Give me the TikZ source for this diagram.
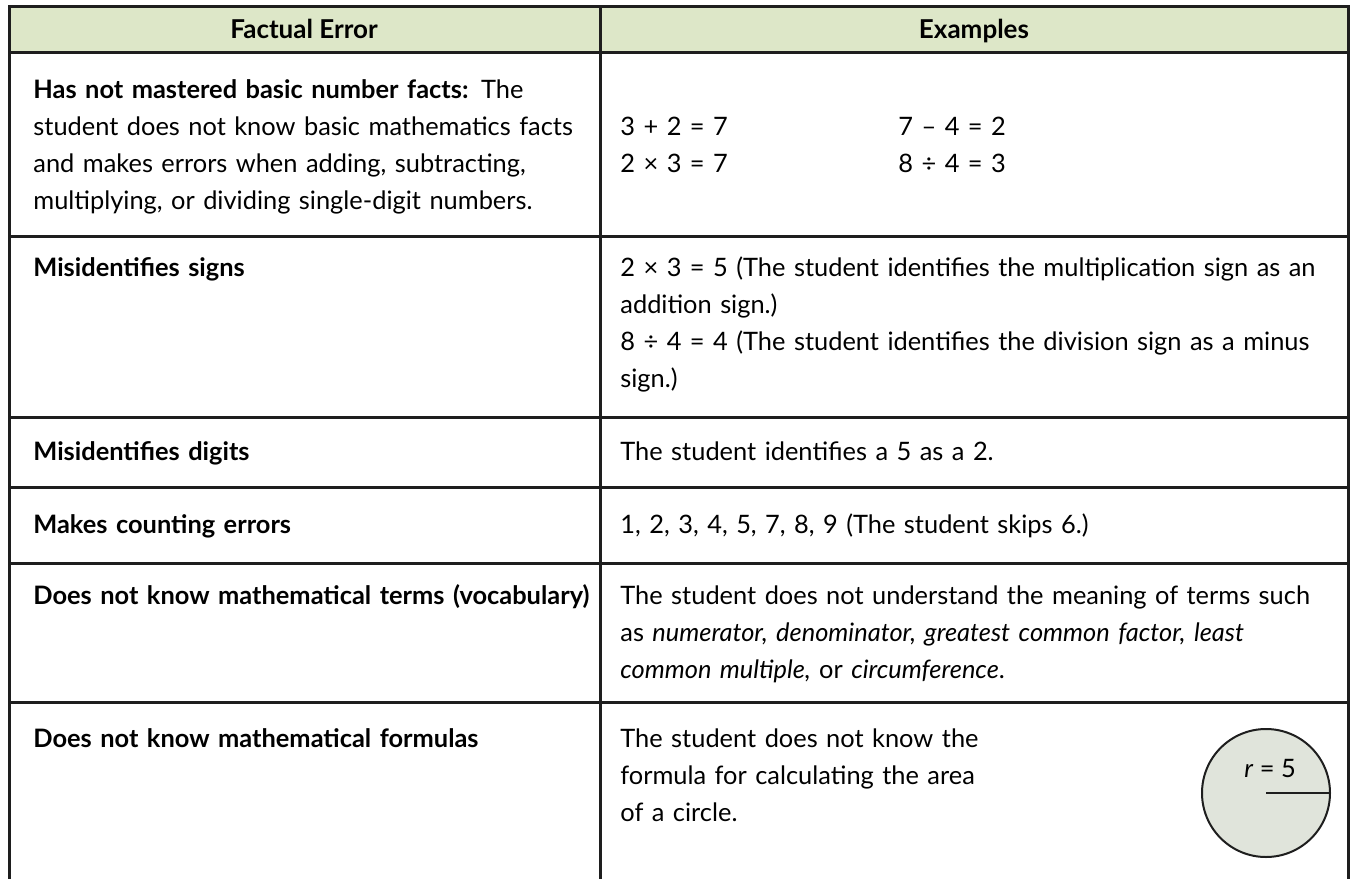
\documentclass[tikz,border=0pt]{standalone}
\usepackage{fontspec}
\setmainfont{Lato}
\usepackage{xcolor}
\usetikzlibrary{positioning,calc}

\definecolor{hdrgreen}{RGB}{221,231,200}
\definecolor{discgrey}{RGB}{224,228,219}
\definecolor{gridcol}{RGB}{30,30,30}

\begin{document}
\begin{tikzpicture}[x=0.5pt,y=-0.5pt,
    gridline/.style={line width=1.5pt, draw=gridcol, line cap=rect},
    cell/.style={anchor=base west, inner sep=0pt, align=left, text width=400pt,
        font=\fontsize{12.7pt}{18.5pt}\selectfont},
    lead/.style={cell, font=\bfseries\fontsize{12.7pt}{18.5pt}\selectfont},
    hdr/.style={anchor=base, inner sep=0pt, font=\bfseries\fontsize{13pt}{18.5pt}\selectfont}]
    \useasboundingbox (0,0) rectangle (1351,879);

    % header band
    \fill [hdrgreen] (9,6) rectangle (1348,52);
    \foreach \yy in {6,52,236,417,487,563,702}
        \draw [gridline] (9,\yy) -- (1348,\yy);
    \foreach \xx in {9,600,1348}
        \draw [gridline] (\xx,6) -- (\xx,879);

    \node [hdr] (errhead) at (304,38) {Factual Error};
    \node [hdr] (exhead) at (974,38) {Examples};

    % row 1
    \node [cell] (facts) at (33,98) {\textbf{Has not mastered basic number facts:} The\\
        student does not know basic mathematics facts\\
        and makes errors when adding, subtracting,\\
        multiplying, or dividing single-digit numbers.};
    \node [cell, text width=150pt] (sumleft) at (620,135) {3 + 2 = 7\\2 × 3 = 7};
    \node [cell, text width=150pt] (sumright) at (898,135) {7 – 4 = 2\\8 ÷ 4 = 3};

    % row 2
    \node [lead] (signs) at (33,276) {Misidentifies signs};
    \node [cell] (signsex) at (620,276) {2 × 3 = 5 (The student identifies the multiplication sign as an\\
        addition sign.)\\
        8 ÷ 4 = 4 (The student identifies the division sign as a minus\\
        sign.)};

    % row 3
    \node [lead] (digits) at (33,460) {Misidentifies digits};
    \node [cell] (digitsex) at (620,460) {The student identifies a 5 as a 2.};

    % row 4
    \node [lead] (counting) at (33,533) {Makes counting errors};
    \node [cell] (countingex) at (620,533) {1, 2, 3, 4, 5, 7, 8, 9 (The student skips 6.)};

    % row 5
    \node [lead] (terms) at (33,604) {Does not know mathematical terms (vocabulary)};
    \node [cell] (termsex) at (620,604) {The student does not understand the meaning of terms such\\
        as \textit{numerator, denominator, greatest common factor, least}\\
        \textit{common multiple,} or \textit{circumference}.};

    % row 6
    \node [lead] (formulas) at (33,747) {Does not know mathematical formulas};
    \node [cell] (formulasex) at (620,747) {The student does not know the\\
        formula for calculating the area\\
        of a circle.};

    % the disc
    \node [circle, draw=gridcol, line width=1pt, fill=discgrey, inner sep=0pt,
        minimum size=64pt] (disc) at (1266,793) {};
    \draw [line width=1pt, draw=gridcol] (disc.center) -- (disc.east);
    \node [anchor=base, inner sep=0pt, font=\fontsize{12.7pt}{18.5pt}\selectfont]
        (radius) at (1270,777) {\textit{r} = 5};
\end{tikzpicture}
\end{document}
